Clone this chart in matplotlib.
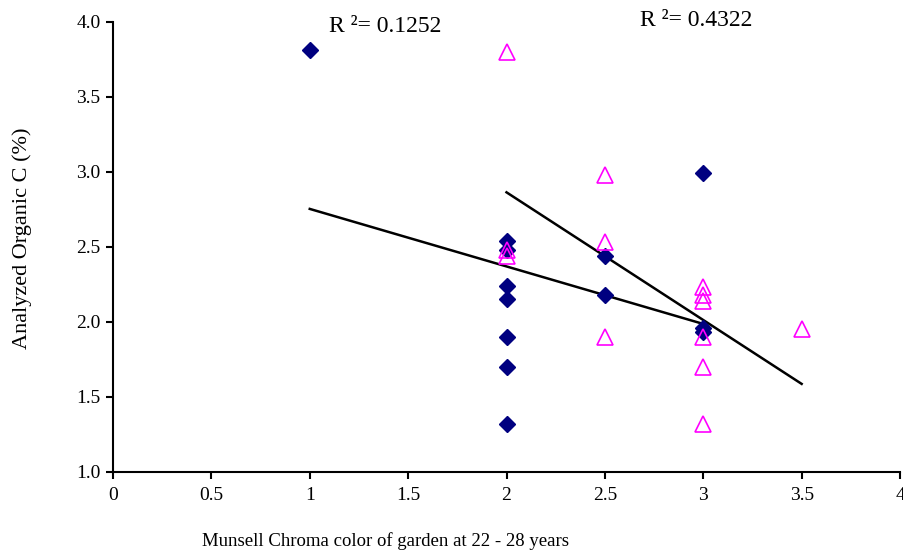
import numpy as np
import matplotlib.pyplot as plt

# series 1: diamonds (navy)
chroma_a = [1, 2, 2, 2, 2, 2, 2, 2, 2.5, 2.5, 3, 3, 3]
carbon_a = [3.81, 2.54, 2.48, 2.24, 2.15, 1.90, 1.70, 1.32, 2.44, 2.18, 2.99, 1.96, 1.93]

# series 2: open triangles (magenta)
chroma_b = [2, 2, 2, 2.5, 2.5, 2.5, 3, 3, 3, 3, 3, 3, 3.5]
carbon_b = [3.80, 2.48, 2.44, 2.98, 2.53, 1.90, 2.23, 2.18, 2.14, 1.90, 1.70, 1.32, 1.95]

r2_labels = ["R \u00b2= 0.1252", "R \u00b2= 0.4322"]
x_ticks = [0, 0.5, 1, 1.5, 2, 2.5, 3, 3.5, 4]
y_ticks = [1.0, 1.5, 2.0, 2.5, 3.0, 3.5, 4.0]

plt.rcParams['font.family'] = ['Liberation Serif', 'DejaVu Serif']

fig = plt.figure(figsize=(9.04, 5.56), dpi=100)
ax = fig.add_axes([0.125, 0.1516, 0.8706, 0.8094])

# linear trendlines over each series' x range
for xs, ys in [(chroma_a, carbon_a), (chroma_b, carbon_b)]:
    k, b = np.polyfit(xs, ys, 1)
    xl = np.array([min(xs), max(xs)])
    ax.plot(xl, k * xl + b, color='black', lw=1.8, zorder=2)

ax.plot(chroma_a, carbon_a, 'D', color='#000080', markersize=8, zorder=3)
ax.plot(chroma_b, carbon_b, '^', markerfacecolor='none', markeredgecolor='#FF00FF',
        markeredgewidth=1.2, markersize=12, zorder=4)

ax.text(1.10, 3.965, r2_labels[0], fontsize=17, ha='left', va='center', clip_on=False)
ax.text(2.68, 4.01, r2_labels[1], fontsize=17, ha='left', va='center', clip_on=False)

ax.set_xlim(0, 4)
ax.set_ylim(1.0, 4.0)
ax.set_xticks(x_ticks)
ax.set_xticklabels(['%g' % v for v in x_ticks])
ax.set_yticks(y_ticks)
ax.set_yticklabels(['%.1f' % v for v in y_ticks])
ax.tick_params(labelsize=14, length=5, width=1.5, direction='out')
ax.tick_params(axis='y', pad=4)
ax.tick_params(axis='x', pad=6)
ax.spines['top'].set_visible(False)
ax.spines['right'].set_visible(False)
ax.spines['left'].set_linewidth(1.5)
ax.spines['bottom'].set_linewidth(1.5)

fig.text(385 / 904, 1 - 541 / 556, 'Munsell Chroma color of garden at 22 - 28 years',
         fontsize=13.5, ha='center', va='center')
fig.text(22 / 904, 1 - 238 / 556, 'Analyzed Organic C (%)', fontsize=16,
         rotation=90, ha='center', va='center')

fig.savefig('out.png', dpi=100)
